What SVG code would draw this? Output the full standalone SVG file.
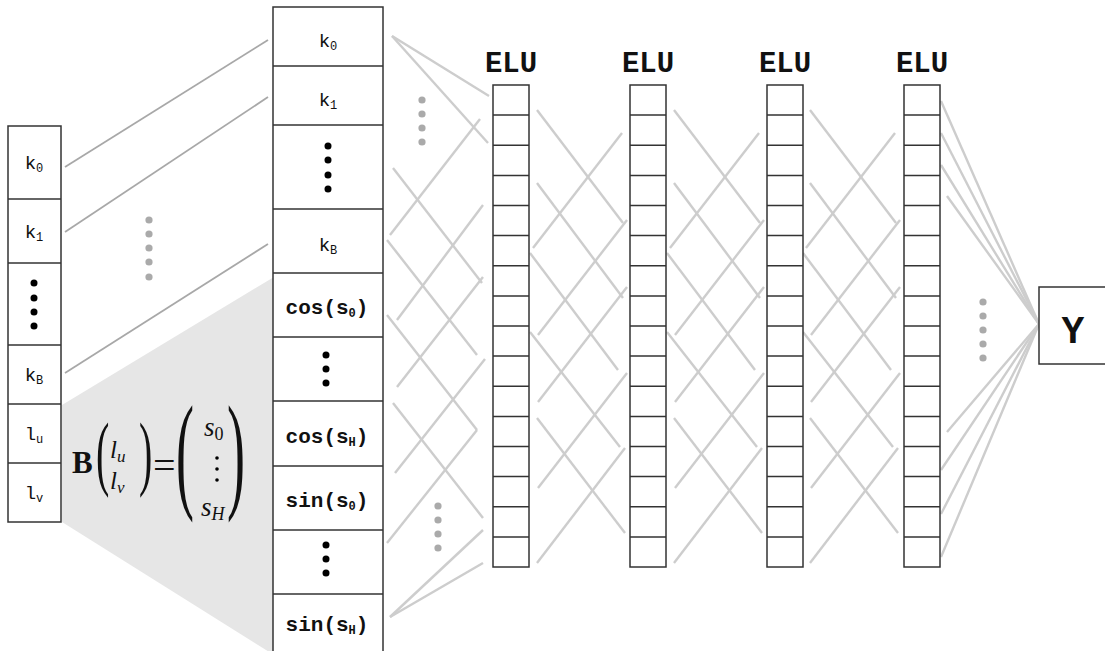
<svg xmlns="http://www.w3.org/2000/svg" width="1105" height="651" viewBox="0 0 1105 651">
<style>
.box{fill:#fff;stroke:#333;stroke-width:1.5}
.sep{stroke:#333;stroke-width:1.5}
.mono{font-family:"Liberation Mono","Courier New",monospace;fill:#111}
.k{font-size:19px}
.cs{font-size:21px;font-weight:bold}
.sub{font-size:12px}
.elu{font-family:"Liberation Mono","Courier New",monospace;font-size:29px;font-weight:bold;fill:#111}
.math{font-family:"Liberation Serif","Times New Roman",serif;fill:#111}
.c{stroke:#cdcdcd;stroke-width:2.4;fill:none}
.g{stroke:#a8a8a8;stroke-width:1.8;fill:none}
.gd{fill:#aaa}
.bd{fill:#000}
</style>
<rect width="1105" height="651" fill="#fff"/>
<!-- gray projection region -->
<polygon id="projection" points="62,405 274,277 274,655 62,522" fill="#e6e6e6"/>

<g id="connectors">
  <!-- input to embedding -->
  <line class="g" x1="65" y1="167" x2="268" y2="40"/>
  <line class="g" x1="65" y1="232" x2="268" y2="97"/>
  <line class="g" x1="65" y1="373" x2="268" y2="244"/>
  <!-- embedding to ELU1 -->
  <line class="c" x1="392" y1="36" x2="489" y2="96"/>
  <line class="c" x1="392" y1="36" x2="488" y2="143"/>
  <line class="c" x1="393" y1="168" x2="482" y2="283"/>
  <line class="c" x1="387" y1="240" x2="477" y2="355"/>
  <line class="c" x1="387" y1="315" x2="477" y2="430"/>
  <line class="c" x1="393" y1="403" x2="483" y2="518"/>
  <line class="c" x1="390" y1="235" x2="480" y2="119"/>
  <line class="c" x1="397" y1="320" x2="483" y2="205"/>
  <line class="c" x1="397" y1="387" x2="483" y2="277"/>
  <line class="c" x1="395" y1="473" x2="485" y2="359"/>
  <line class="c" x1="387" y1="543" x2="477" y2="430"/>
  <line class="c" x1="390" y1="617" x2="483" y2="530"/>
  <line class="c" x1="390" y1="617" x2="483" y2="563"/>
  <!-- ELU to ELU -->
  <g id="lattice">
    <line class="c" x1="537" y1="110" x2="623" y2="223"/>
    <line class="c" x1="537" y1="183" x2="623" y2="298"/>
    <line class="c" x1="530" y1="253" x2="618" y2="370"/>
    <line class="c" x1="530" y1="332" x2="620" y2="447"/>
    <line class="c" x1="537" y1="418" x2="625" y2="533"/>
    <line class="c" x1="533" y1="248" x2="622" y2="133"/>
    <line class="c" x1="538" y1="335" x2="627" y2="220"/>
    <line class="c" x1="538" y1="402" x2="627" y2="287"/>
    <line class="c" x1="538" y1="488" x2="627" y2="373"/>
    <line class="c" x1="537" y1="563" x2="625" y2="448"/>
  </g>
  <g transform="translate(137,0)">
    <line class="c" x1="537" y1="110" x2="623" y2="223"/>
    <line class="c" x1="537" y1="183" x2="623" y2="298"/>
    <line class="c" x1="530" y1="253" x2="618" y2="370"/>
    <line class="c" x1="530" y1="332" x2="620" y2="447"/>
    <line class="c" x1="537" y1="418" x2="625" y2="533"/>
    <line class="c" x1="533" y1="248" x2="622" y2="133"/>
    <line class="c" x1="538" y1="335" x2="627" y2="220"/>
    <line class="c" x1="538" y1="402" x2="627" y2="287"/>
    <line class="c" x1="538" y1="488" x2="627" y2="373"/>
    <line class="c" x1="537" y1="563" x2="625" y2="448"/>
  </g>
  <g transform="translate(273,0)">
    <line class="c" x1="537" y1="110" x2="623" y2="223"/>
    <line class="c" x1="537" y1="183" x2="623" y2="298"/>
    <line class="c" x1="530" y1="253" x2="618" y2="370"/>
    <line class="c" x1="530" y1="332" x2="620" y2="447"/>
    <line class="c" x1="537" y1="418" x2="625" y2="533"/>
    <line class="c" x1="533" y1="248" x2="622" y2="133"/>
    <line class="c" x1="538" y1="335" x2="627" y2="220"/>
    <line class="c" x1="538" y1="402" x2="627" y2="287"/>
    <line class="c" x1="538" y1="488" x2="627" y2="373"/>
    <line class="c" x1="537" y1="563" x2="625" y2="448"/>
  </g>
  <!-- ELU4 to Y -->
  <line class="c" x1="941" y1="101" x2="1039" y2="324"/>
  <line class="c" x1="941" y1="133" x2="1039" y2="324"/>
  <line class="c" x1="941" y1="165" x2="1039" y2="324"/>
  <line class="c" x1="947" y1="196" x2="1039" y2="324"/>
  <line class="c" x1="947" y1="432" x2="1039" y2="324"/>
  <line class="c" x1="941" y1="470" x2="1039" y2="324"/>
  <line class="c" x1="941" y1="514" x2="1039" y2="324"/>
  <line class="c" x1="941" y1="557" x2="1039" y2="324"/>
</g>

<!-- gray ellipsis dots -->
<g id="ellipses">
  <circle class="gd" cx="149" cy="220" r="3.6"/><circle class="gd" cx="149" cy="234" r="3.6"/><circle class="gd" cx="149" cy="248" r="3.6"/><circle class="gd" cx="149" cy="262" r="3.6"/><circle class="gd" cx="149" cy="277" r="3.6"/>
  <circle class="gd" cx="422" cy="100" r="3.6"/><circle class="gd" cx="422" cy="114" r="3.6"/><circle class="gd" cx="422" cy="128" r="3.6"/><circle class="gd" cx="422" cy="142" r="3.6"/>
  <circle class="gd" cx="438" cy="506" r="3.6"/><circle class="gd" cx="438" cy="520" r="3.6"/><circle class="gd" cx="438" cy="534" r="3.6"/><circle class="gd" cx="438" cy="548" r="3.6"/>
  <circle class="gd" cx="983" cy="302" r="3.6"/><circle class="gd" cx="983" cy="316" r="3.6"/><circle class="gd" cx="983" cy="330" r="3.6"/><circle class="gd" cx="983" cy="344" r="3.6"/><circle class="gd" cx="983" cy="358" r="3.6"/>
</g>

<!-- input column -->
<g id="input">
  <rect class="box" x="8" y="126" width="53" height="396"/>
  <line class="sep" x1="8" y1="199" x2="61" y2="199"/>
  <line class="sep" x1="8" y1="263" x2="61" y2="263"/>
  <line class="sep" x1="8" y1="345" x2="61" y2="345"/>
  <line class="sep" x1="8" y1="404" x2="61" y2="404"/>
  <line class="sep" x1="8" y1="463" x2="61" y2="463"/>
  <text class="mono k" x="34" y="169" text-anchor="middle">k<tspan class="sub" dy="3">0</tspan></text>
  <text class="mono k" x="34" y="238" text-anchor="middle">k<tspan class="sub" dy="3">1</tspan></text>
  <circle class="bd" cx="34" cy="283" r="3.5"/><circle class="bd" cx="34" cy="298" r="3.5"/><circle class="bd" cx="34" cy="312" r="3.5"/><circle class="bd" cx="34" cy="326" r="3.5"/>
  <text class="mono k" x="34" y="381" text-anchor="middle">k<tspan class="sub" dy="3">B</tspan></text>
  <text class="mono k" x="34" y="440" text-anchor="middle">l<tspan class="sub" dy="3">u</tspan></text>
  <text class="mono k" x="34" y="499" text-anchor="middle">l<tspan class="sub" dy="3">v</tspan></text>
</g>

<!-- formula -->
<g id="formula" class="math">
  <text x="72" y="473" font-size="31" font-weight="bold">B</text>
  <text transform="translate(96,480) scale(1,2.05)" font-size="40">(</text>
  <text x="110" y="458" font-size="25" font-style="italic">l<tspan font-size="17" dy="4">u</tspan></text>
  <text x="110" y="489" font-size="25" font-style="italic">l<tspan font-size="17" dy="4">v</tspan></text>
  <text transform="translate(139,480) scale(1,2.05)" font-size="40">)</text>
  <text x="153" y="479" font-size="40">=</text>
  <text transform="translate(176,495) scale(1,2.4)" font-size="54">(</text>
  <text x="204" y="436" font-size="27" font-style="italic">s<tspan font-style="normal" font-size="18" dy="4">0</tspan></text>
  <circle class="bd" cx="217" cy="458" r="1.8"/><circle class="bd" cx="217" cy="469" r="1.8"/><circle class="bd" cx="217" cy="480" r="1.8"/>
  <text x="201" y="516" font-size="27" font-style="italic">s<tspan font-size="18" dy="4">H</tspan></text>
  <text transform="translate(227,495) scale(1,2.4)" font-size="54">)</text>
</g>

<!-- embedding column -->
<g id="embedding">
  <rect class="box" x="273" y="7" width="110" height="650"/>
  <line class="sep" x1="273" y1="66" x2="383" y2="66"/>
  <line class="sep" x1="273" y1="125" x2="383" y2="125"/>
  <line class="sep" x1="273" y1="209" x2="383" y2="209"/>
  <line class="sep" x1="273" y1="273" x2="383" y2="273"/>
  <line class="sep" x1="273" y1="337" x2="383" y2="337"/>
  <line class="sep" x1="273" y1="401" x2="383" y2="401"/>
  <line class="sep" x1="273" y1="466" x2="383" y2="466"/>
  <line class="sep" x1="273" y1="530" x2="383" y2="530"/>
  <line class="sep" x1="273" y1="594" x2="383" y2="594"/>
  <text class="mono k" x="328" y="47" text-anchor="middle">k<tspan class="sub" dy="3">0</tspan></text>
  <text class="mono k" x="328" y="106" text-anchor="middle">k<tspan class="sub" dy="3">1</tspan></text>
  <circle class="bd" cx="328" cy="146" r="3.5"/><circle class="bd" cx="328" cy="160" r="3.5"/><circle class="bd" cx="328" cy="175" r="3.5"/><circle class="bd" cx="328" cy="189" r="3.5"/>
  <text class="mono k" x="328" y="251" text-anchor="middle">k<tspan class="sub" dy="3">B</tspan></text>
  <text class="mono cs" x="327" y="314" text-anchor="middle">cos(s<tspan class="sub" font-size="13" dy="3">0</tspan><tspan dy="-3">)</tspan></text>
  <circle class="bd" cx="326" cy="355" r="3.5"/><circle class="bd" cx="326" cy="369" r="3.5"/><circle class="bd" cx="326" cy="383" r="3.5"/>
  <text class="mono cs" x="327" y="443" text-anchor="middle">cos(s<tspan class="sub" font-size="13" dy="3">H</tspan><tspan dy="-3">)</tspan></text>
  <text class="mono cs" x="327" y="507" text-anchor="middle">sin(s<tspan class="sub" font-size="13" dy="3">0</tspan><tspan dy="-3">)</tspan></text>
  <circle class="bd" cx="326" cy="545" r="3.5"/><circle class="bd" cx="326" cy="559" r="3.5"/><circle class="bd" cx="326" cy="573" r="3.5"/>
  <text class="mono cs" x="327" y="631" text-anchor="middle">sin(s<tspan class="sub" font-size="13" dy="3">H</tspan><tspan dy="-3">)</tspan></text>
</g>

<!-- ELU layers -->
<defs>
  <g id="cells">
    <rect class="box" x="0" y="85" width="36" height="482"/>
    <path class="sep" d="M0 115.1H36M0 145.2H36M0 175.4H36M0 205.5H36M0 235.6H36M0 265.8H36M0 295.9H36M0 326H36M0 356.1H36M0 386.2H36M0 416.4H36M0 446.5H36M0 476.6H36M0 506.8H36M0 536.9H36"/>
  </g>
</defs>
<g id="elu1"><use href="#cells" x="493"/><text class="elu" x="511" y="72" text-anchor="middle">ELU</text></g>
<g id="elu2"><use href="#cells" x="630"/><text class="elu" x="648" y="72" text-anchor="middle">ELU</text></g>
<g id="elu3"><use href="#cells" x="767"/><text class="elu" x="785" y="72" text-anchor="middle">ELU</text></g>
<g id="elu4"><use href="#cells" x="904"/><text class="elu" x="922" y="72" text-anchor="middle">ELU</text></g>

<!-- output -->
<g id="output">
  <rect class="box" x="1039" y="287" width="70" height="77"/>
  <text class="mono" x="1073" y="343" font-size="38" font-weight="bold" text-anchor="middle">Y</text>
</g>
</svg>
